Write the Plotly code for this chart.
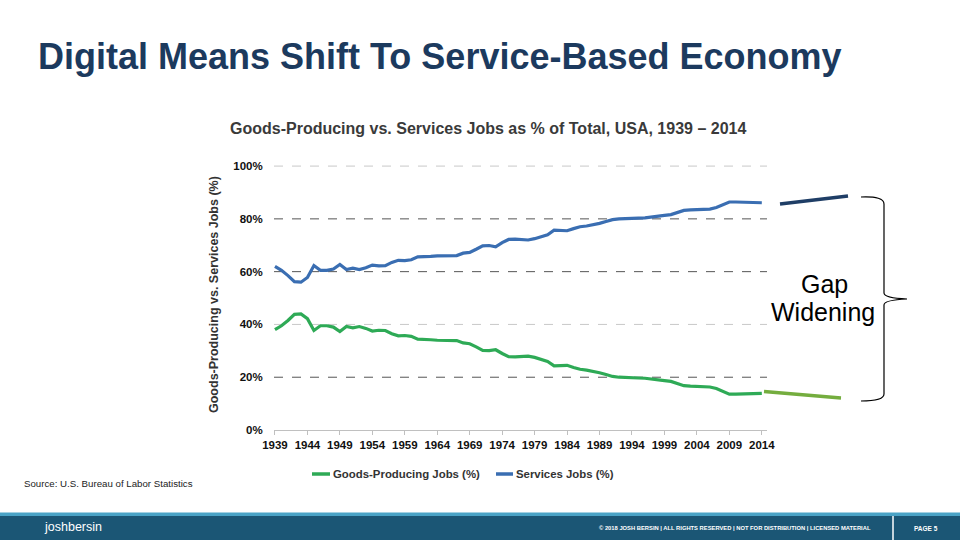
import plotly.graph_objects as go

years = list(range(1939, 2015))
services = [62.0, 60.5, 58.5, 56.2, 56.0, 57.8, 62.3, 60.5, 60.5, 61.0,
            62.7, 60.8, 61.3, 60.8, 61.5, 62.5, 62.2, 62.3, 63.5, 64.3,
            64.2, 64.5, 65.6, 65.6, 65.8, 66.0, 66.1, 66.0, 66.1, 67.0,
            67.3, 68.5, 69.8, 69.9, 69.4, 71.0, 72.2, 72.3, 72.2, 72.0,
            72.5, 73.3, 74.0, 75.7, 75.5, 75.5, 76.3, 77.0, 77.3, 77.7,
            78.3, 79.0, 79.7, 80.0, 80.2, 80.3, 80.3, 80.4, 80.6, 81.0,
            81.3, 81.6, 82.3, 83.2, 83.4, 83.5, 83.5, 83.7, 84.3, 85.2,
            86.4, 86.4, 86.3, 86.3, 86.2, 86.1]
goods = [38.0, 39.5, 41.5, 43.8, 44.0, 42.2, 37.7, 39.5, 39.5, 39.0,
         37.3, 39.2, 38.7, 39.2, 38.5, 37.5, 37.8, 37.7, 36.5, 35.7,
         35.8, 35.5, 34.4, 34.4, 34.2, 34.0, 33.9, 34.0, 33.9, 33.0,
         32.7, 31.5, 30.2, 30.1, 30.4, 29.0, 27.8, 27.7, 27.8, 28.0,
         27.5, 26.7, 26.0, 24.3, 24.5, 24.5, 23.7, 23.0, 22.7, 22.3,
         21.7, 21.0, 20.3, 20.0, 19.8, 19.7, 19.7, 19.6, 19.4, 19.0,
         18.7, 18.4, 17.7, 16.8, 16.6, 16.5, 16.5, 16.3, 15.7, 14.8,
         13.6, 13.6, 13.7, 13.7, 13.8, 13.9]
series_names = ["Goods-Producing Jobs (%)", "Services Jobs (%)"]
series_colors = ["#2eaa56", "#3a6eb2"]
x_ticks = list(range(1939, 2015, 5))
y_ticks = [0, 20, 40, 60, 80, 100]
y_tick_labels = ["0%", "20%", "40%", "60%", "80%", "100%"]
grid_values = [20, 40, 60, 80, 100]
grid_colors = ["#555555", "#c8c8c8", "#555555", "#555555", "#c8c8c8"]

W, H = 960, 540
def px(x):
    return x / W
def py(y):
    return 1 - y / H

FONT = "Liberation Sans, Arial, sans-serif"

fig = go.Figure()
for vals, name, col in zip([goods, services], series_names, series_colors):
    fig.add_trace(go.Scatter(x=years, y=vals, mode="lines", name=name,
                             line=dict(color=col, width=3.2), showlegend=False))

shapes = []
# gridlines
for gv, gc in zip(grid_values, grid_colors):
    shapes.append(dict(type="line", xref="x domain", yref="y", x0=0, x1=1, y0=gv, y1=gv,
                       line=dict(color=gc, width=1, dash="dash"), layer="below"))
# footer band
shapes.append(dict(type="rect", xref="paper", yref="paper", x0=0, x1=1, y0=py(540), y1=py(512.5),
                   fillcolor="#4aa3c6", line=dict(width=0), layer="above"))
shapes.append(dict(type="rect", xref="paper", yref="paper", x0=0, x1=1, y0=py(540), y1=py(516),
                   fillcolor="#1b5675", line=dict(width=0), layer="above"))
shapes.append(dict(type="line", xref="paper", yref="paper", x0=px(893), x1=px(893), y0=py(516), y1=py(540),
                   line=dict(color="white", width=1.5), layer="above"))
# extension segments
shapes.append(dict(type="line", xref="paper", yref="paper", x0=px(780), y0=py(204), x1=px(848), y1=py(196),
                   line=dict(color="#1f3e66", width=3.5)))
shapes.append(dict(type="line", xref="paper", yref="paper", x0=px(764), y0=py(391.5), x1=px(841), y1=py(398),
                   line=dict(color="#74ad3e", width=3.5)))
# bracket
def P(x, y):
    return f"{px(x):.5f},{py(y):.5f}"
path = ("M " + P(861, 197) + " Q " + P(884, 196) + " " + P(884, 204) +
        " L " + P(884, 293) + " Q " + P(884, 298) + " " + P(907, 299) +
        " Q " + P(884, 300) + " " + P(884, 305) +
        " L " + P(884, 394) + " Q " + P(884, 401) + " " + P(861, 401))
shapes.append(dict(type="path", xref="paper", yref="paper", path=path,
                   line=dict(color="black", width=1.2)))

# manual legend
legend_pos = [(312, 330), (496, 513)]
annotations = []
for (x0, x1), name, col in zip(legend_pos, series_names, series_colors):
    shapes.append(dict(type="line", xref="paper", yref="paper", x0=px(x0), x1=px(x1), y0=py(474), y1=py(474),
                       line=dict(color=col, width=3.5)))
    annotations.append(dict(text=f"<b>{name}</b>", x=px(x1 + 0.5), y=py(474), xref="paper", yref="paper",
                            xanchor="left", yanchor="middle", showarrow=False,
                            font=dict(family=FONT, size=11.4, color="#333")))

annotations += [
    dict(text="<b>Digital Means Shift To Service-Based Economy</b>", x=px(36), y=py(56), xref="paper", yref="paper",
         xanchor="left", yanchor="middle", showarrow=False, font=dict(family=FONT, size=36, color="#1c3a5e")),
    dict(text="<b>Goods-Producing vs. Services Jobs as % of Total, USA, 1939 – 2014</b>", x=px(488), y=py(128),
         xref="paper", yref="paper", xanchor="center", yanchor="middle", showarrow=False,
         font=dict(family=FONT, size=16, color="#3a3a3a")),
    dict(text="Gap", x=px(824), y=py(284), xref="paper", yref="paper", xanchor="center",
         yanchor="middle", showarrow=False, font=dict(family=FONT, size=25, color="black")),
    dict(text="Widening", x=px(823), y=py(312), xref="paper", yref="paper", xanchor="center",
         yanchor="middle", showarrow=False, font=dict(family=FONT, size=25, color="black")),
    dict(text="Source: U.S. Bureau of Labor Statistics", x=px(22), y=py(483), xref="paper", yref="paper",
         xanchor="left", yanchor="middle", showarrow=False, font=dict(family=FONT, size=9.7, color="#222")),
    dict(text="joshbersin", x=px(42), y=py(527), xref="paper", yref="paper", xanchor="left", yanchor="middle",
         showarrow=False, font=dict(family=FONT, size=12.5, color="white")),
    dict(text="<b>© 2018 JOSH BERSIN | ALL RIGHTS RESERVED | NOT FOR DISTRIBUTION | LICENSED MATERIAL</b>",
         x=px(873), y=py(528), xref="paper", yref="paper", xanchor="right", yanchor="middle",
         showarrow=False, font=dict(family=FONT, size=5.8, color="white")),
    dict(text="<b>PAGE 5</b>", x=px(926), y=py(528), xref="paper", yref="paper", xanchor="center",
         yanchor="middle", showarrow=False, font=dict(family=FONT, size=6.5, color="white")),
    dict(text="<b>Goods-Producing vs. Services Jobs (%)</b>", x=px(214), y=py(295), xref="paper", yref="paper",
         xanchor="center", yanchor="middle", showarrow=False, textangle=-90,
         font=dict(family=FONT, size=12.5, color="#333")),
]

fig.update_layout(
    width=W, height=H,
    margin=dict(l=0, r=0, t=0, b=0, pad=0, autoexpand=False),
    paper_bgcolor="white", plot_bgcolor="white",
    font=dict(family=FONT, color="#222"),
    shapes=shapes, annotations=annotations,
    showlegend=False,
    xaxis=dict(domain=[px(274), px(767)], range=[1938.85, 2014.8], tickvals=x_ticks,
               ticktext=[f"<b>{v}</b>" for v in x_ticks], tickfont=dict(family=FONT, size=11.5, color="#111"),
               showgrid=False, zeroline=False, showline=True, linecolor="#c0c0c0", linewidth=1,
               ticks="outside", ticklen=4, tickcolor="#c0c0c0", automargin=False, fixedrange=True),
    yaxis=dict(domain=[py(430), py(164.5)], range=[0, 100.6], tickvals=y_ticks,
               ticktext=[f"<b>{t}</b>" for t in y_tick_labels], tickfont=dict(family=FONT, size=11.5, color="#111"),
               showgrid=False, zeroline=False, showline=False, ticks="outside", ticklen=8,
               tickcolor="rgba(0,0,0,0)", automargin=False, fixedrange=True),
)
fig.write_html("out.html", config={"displayModeBar": False},
               post_script="document.body.style.margin='0';document.body.style.overflow='hidden';")
